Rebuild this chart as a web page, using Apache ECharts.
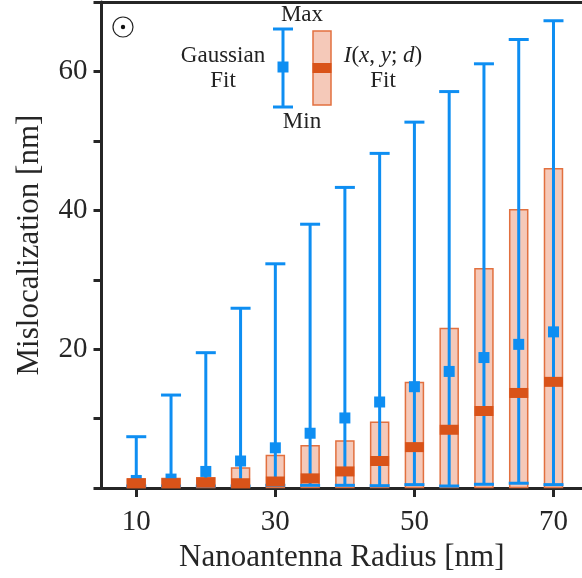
<!doctype html>
<html lang="en">
<head>
	<meta charset="UTF-8">
	<title>Mislocalization</title>
	<script src="https://cdn.jsdelivr.net/npm/echarts@6/dist/echarts.min.js"></script>
	<style>
		html, body { margin: 0; padding: 0; background: #fff; }
		#chart { width: 582px; height: 578px; }
	</style>
</head>
<body>
	<div id="chart"></div>
	<script type="text/javascript">
		// radius values (nm)
		var radius = [10, 15, 20, 25, 30, 35, 40, 45, 50, 55, 60, 65, 70];
		// Gaussian fit : min / mean / max
		var gaussMin  = [0.3, 0.3, 0.3, 0.3, 0.4, 0.4, 0.4, 0.35, 0.5, 0.3, 0.55, 0.7, 0.5];
		var gaussMean = [1.1, 1.3, 2.4, 3.9, 5.8, 7.9, 10.1, 12.4, 14.6, 16.8, 18.8, 20.7, 22.5];
		var gaussMax  = [7.4, 13.4, 19.5, 25.9, 32.3, 38.0, 43.3, 48.2, 52.7, 57.1, 61.1, 64.6, 67.3];
		// I(x,y;d) fit : min / mean / max
		var fitMin  = [0.1, 0.1, 0.1, 0.1, 0.1, 0.1, 0.1, 0.1, 0.1, 0.1, 0.1, 0.1, 0.1];
		var fitMean = [0.7, 0.7, 0.8, 0.7, 0.95, 1.4, 2.4, 3.9, 5.9, 8.4, 11.1, 13.7, 15.3];
		var fitMax  = [1.3, 1.4, 1.5, 2.9, 4.7, 6.1, 6.8, 9.5, 15.2, 23.0, 31.6, 40.1, 46.0];
		var xTicks = [10, 30, 50, 70];

		var blue = '#0e8ef2';
		var orange = '#d95319';
		var axisCol = '#262626';
		var serif = 'Liberation Serif';

		function rows(a, b) {
			return radius.map(function (r, i) { return [r, a[i], b[i]]; });
		}

		var myChart = echarts.init(document.getElementById('chart'));

		var option = {
			animation: false,
			grid: { left: 101.5, top: 2, right: 0, bottom: 89 },
			xAxis: [{
				type: 'value', min: 5, max: 74.1,
				name: 'Nanoantenna Radius [nm]', nameLocation: 'middle', nameGap: 53,
				nameTextStyle: { fontFamily: serif, fontSize: 31, color: axisCol },
				axisLine: { show: true, lineStyle: { color: axisCol, width: 3 } },
				axisTick: { show: true, customValues: xTicks, length: 9, lineStyle: { color: axisCol, width: 3 } },
				axisLabel: { customValues: xTicks, margin: 20, fontFamily: serif, fontSize: 29, color: axisCol },
				splitLine: { show: false }
			}, {
				type: 'value', min: 5, max: 74.1, position: 'top',
				axisLine: { show: true, lineStyle: { color: axisCol, width: 3 } },
				axisTick: { show: false }, axisLabel: { show: false }, splitLine: { show: false }
			}],
			yAxis: {
				type: 'value', min: 0, max: 70, interval: 10,
				name: 'Mislocalization [nm]', nameLocation: 'middle', nameGap: 56,
				nameTextStyle: { fontFamily: serif, fontSize: 31, color: axisCol },
				axisLine: { show: true, lineStyle: { color: axisCol, width: 3 } },
				axisTick: { show: true, length: 8, lineStyle: { color: axisCol, width: 3 } },
				axisLabel: {
					margin: 14, fontFamily: serif, fontSize: 29, color: axisCol,
					formatter: function (v) { return (v > 0 && v % 20 === 0) ? String(v) : ''; }
				},
				splitLine: { show: false }
			},
			series: [
				{
					// I(x,y;d) fit min-max box
					type: 'custom', z: 1,
					data: rows(fitMin, fitMax),
					renderItem: function (params, api) {
						var lo = api.coord([api.value(0), api.value(1)]);
						var hi = api.coord([api.value(0), api.value(2)]);
						return {
							type: 'rect',
							shape: { x: lo[0] - 9, y: hi[1], width: 18, height: lo[1] - hi[1] },
							style: { fill: '#f5c9b9', stroke: '#e2703f', lineWidth: 1.5 }
						};
					}
				},
				{
					// Gaussian fit min-max error bar
					type: 'custom', z: 2,
					data: rows(gaussMin, gaussMax),
					renderItem: function (params, api) {
						var lo = api.coord([api.value(0), api.value(1)]);
						var hi = api.coord([api.value(0), api.value(2)]);
						var st = { stroke: blue, lineWidth: 3 };
						return {
							type: 'group',
							children: [
								{ type: 'line', shape: { x1: lo[0], y1: lo[1], x2: hi[0], y2: hi[1] }, style: st },
								{ type: 'line', shape: { x1: hi[0] - 10, y1: hi[1], x2: hi[0] + 10, y2: hi[1] }, style: st },
								{ type: 'line', shape: { x1: lo[0] - 10, y1: lo[1], x2: lo[0] + 10, y2: lo[1] }, style: st }
							]
						};
					}
				},
				{
					type: 'scatter', z: 3, symbol: 'rect', symbolSize: 11,
					itemStyle: { color: blue, opacity: 1 },
					data: radius.map(function (r, i) { return [r, gaussMean[i]]; })
				},
				{
					type: 'scatter', z: 4, symbol: 'rect', symbolSize: [19, 10],
					itemStyle: { color: orange, opacity: 1 },
					data: radius.map(function (r, i) { return [r, fitMean[i]]; })
				}
			],
			graphic: [
				// ⊙ marker
				{ type: 'circle', shape: { cx: 123, cy: 27, r: 10 }, style: { fill: 'none', stroke: '#222', lineWidth: 1.2 } },
				{ type: 'circle', shape: { cx: 123, cy: 27, r: 2.2 }, style: { fill: '#111' } },
				// legend: gaussian
				{ type: 'line', shape: { x1: 283, y1: 29, x2: 283, y2: 107 }, style: { stroke: blue, lineWidth: 3 } },
				{ type: 'line', shape: { x1: 273, y1: 29, x2: 293, y2: 29 }, style: { stroke: blue, lineWidth: 3 } },
				{ type: 'line', shape: { x1: 273, y1: 107, x2: 293, y2: 107 }, style: { stroke: blue, lineWidth: 3 } },
				{ type: 'rect', shape: { x: 277.5, y: 61.5, width: 11, height: 11 }, style: { fill: blue } },
				// legend: I fit
				{ type: 'rect', shape: { x: 313, y: 31, width: 18, height: 74 }, style: { fill: '#f5c9b9', stroke: '#e2703f', lineWidth: 1.5 } },
				{ type: 'rect', shape: { x: 312.5, y: 63, width: 19, height: 10 }, style: { fill: orange } },
				// legend texts
				{ type: 'text', x: 302, y: 15, style: { text: 'Max', fontFamily: serif, fontSize: 23, fill: '#222', align: 'center', verticalAlign: 'middle' } },
				{ type: 'text', x: 302, y: 122, style: { text: 'Min', fontFamily: serif, fontSize: 23, fill: '#222', align: 'center', verticalAlign: 'middle' } },
				{ type: 'text', x: 223, y: 56, style: { text: 'Gaussian', fontFamily: serif, fontSize: 23, fill: '#222', align: 'center', verticalAlign: 'middle' } },
				{ type: 'text', x: 223, y: 81, style: { text: 'Fit', fontFamily: serif, fontSize: 23, fill: '#222', align: 'center', verticalAlign: 'middle' } },
				{ type: 'text', x: 383, y: 56, style: {
					text: '{i|I}({i|x}, {i|y}; {i|d})',
					fontFamily: serif, fontSize: 23, fill: '#222', align: 'center', verticalAlign: 'middle',
					rich: { i: { fontFamily: serif, fontSize: 23, fontStyle: 'italic', fill: '#222' } }
				} },
				{ type: 'text', x: 383, y: 81, style: { text: 'Fit', fontFamily: serif, fontSize: 23, fill: '#222', align: 'center', verticalAlign: 'middle' } }
			]
		};

		myChart.setOption(option);
	</script>
</body>
</html>
